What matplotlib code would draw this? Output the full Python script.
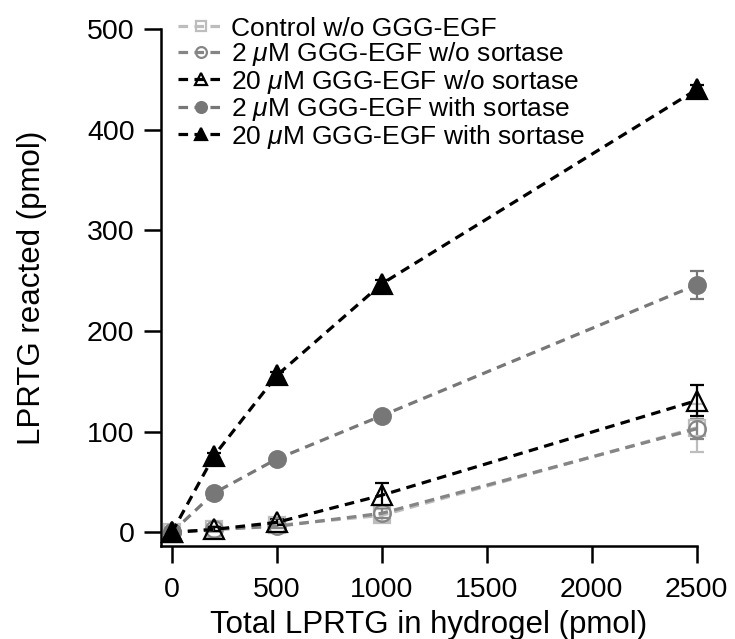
import matplotlib.pyplot as plt

plt.rcParams['font.family'] = ['Liberation Sans', 'DejaVu Sans']
plt.rcParams['mathtext.fontset'] = 'custom'
plt.rcParams['mathtext.it'] = 'Liberation Sans:italic'
plt.rcParams['mathtext.rm'] = 'Liberation Sans'

# Total LPRTG in hydrogel (pmol)
x = [0, 200, 500, 1000, 2500]

# LPRTG reacted (pmol), mean and error for each condition
control = [0, 3, 7, 17, 104]
control_err = [4, 3, 3, 6, 24]
ggg2_wo = [0, 3, 6, 19, 103]
ggg2_wo_err = [3, 2, 2, 5, 10]
ggg20_wo = [0, 3, 10, 37, 131]
ggg20_wo_err = [3, 2, 3, 12, 15]
ggg2_with = [0, 39, 73, 116, 246]
ggg2_with_err = [2, 2, 2, 3, 14]
ggg20_with = [0, 76, 156, 247, 440]
ggg20_with_err = [2, 3, 3, 4, 4]

labels = ['Control w/o GGG-EGF',
          r'2 $\mu$M GGG-EGF w/o sortase',
          r'20 $\mu$M GGG-EGF w/o sortase',
          r'2 $\mu$M GGG-EGF with sortase',
          r'20 $\mu$M GGG-EGF with sortase']

# data, error, colour, marker, filled, marker size
series = [
    (control, control_err, '#bdbdbd', 's', False, 11),
    (ggg2_wo, ggg2_wo_err, '#858585', 'o', False, 12),
    (ggg20_wo, ggg20_wo_err, 'black', '^', False, 14),
    (ggg2_with, ggg2_with_err, '#777777', 'o', True, 12),
    (ggg20_with, ggg20_with_err, 'black', '^', True, 14),
]

fig = plt.figure(figsize=(7.35, 6.39), dpi=100)
ax = fig.add_axes([0.219, 0.1455, 0.729, 0.809])

for (y, err, color, marker, filled, ms), label in zip(series, labels):
    face = color if filled else 'none'
    ax.errorbar(x, y, yerr=err, color=color, ls=(0, (3, 2)), lw=2.3,
                marker=marker, ms=ms, mfc=face, mec=color, mew=1.6,
                capsize=5, capthick=1.6, elinewidth=1.6, clip_on=False,
                label=label)

ax.set_xlim(-52, 2500)
ax.set_ylim(-13.5, 500)
ax.set_xticks([0, 500, 1000, 1500, 2000, 2500])
ax.set_yticks([0, 100, 200, 300, 400, 500])
ax.spines['top'].set_visible(False)
ax.spines['right'].set_visible(False)
ax.spines['left'].set_linewidth(1.8)
ax.spines['bottom'].set_linewidth(1.8)
ax.tick_params(direction='out', length=12, width=1.8, labelsize=20.5)
ax.tick_params(axis='x', pad=10)
ax.tick_params(axis='y', pad=7)
ax.set_xlabel('Total LPRTG in hydrogel (pmol)', fontsize=22.5, labelpad=5)
ax.set_ylabel('LPRTG reacted (pmol)', fontsize=22.5, labelpad=29)

handles, labs = ax.get_legend_handles_labels()
handles = [h[0] for h in handles]
ax.legend(handles, labs, loc='upper left', bbox_to_anchor=(0.032, 1.024),
          frameon=False, fontsize=19, handlelength=1.7, handletextpad=0.3,
          labelspacing=-0.02, borderaxespad=0, borderpad=0, markerscale=0.65)

fig.savefig('out.png', dpi=100)
